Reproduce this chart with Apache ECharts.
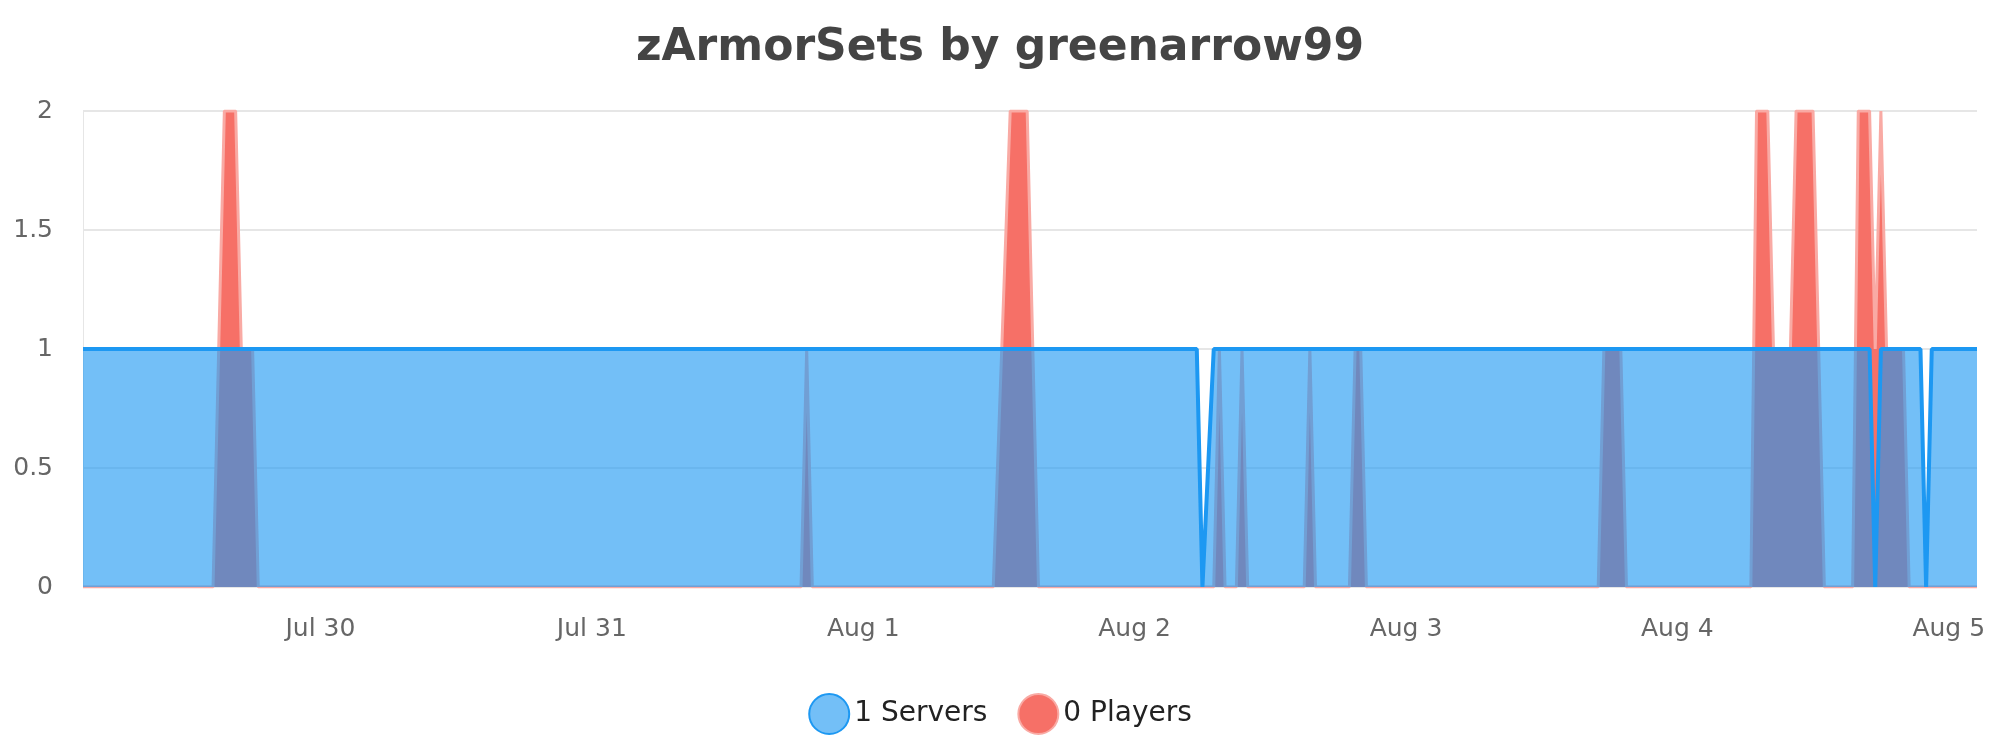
<!DOCTYPE html>
<html><head><meta charset="utf-8">
<script src="https://cdn.jsdelivr.net/npm/echarts@6/dist/echarts.min.js"></script>
<style>html,body{margin:0;padding:0;background:#fff}#c{width:2000px;height:750px}</style>
</head><body><div id="c"></div>
<script>
const titleText = 'zArmorSets by greenarrow99';
const seriesNames = ['1 Servers', '0 Players'];
const xMin = '2024-07-29T03:00';
const xMax = '2024-08-05T02:30';
const serverPoints = [
 ['2024-07-29T03:00',1],['2024-08-02T05:30',1],['2024-08-02T06:00',0],['2024-08-02T07:00',1],
 ['2024-08-04T17:00',1],['2024-08-04T17:30',0],['2024-08-04T18:00',1],['2024-08-04T21:30',1],
 ['2024-08-04T22:00',0],['2024-08-04T22:30',1],['2024-08-05T02:30',1]
];
const playerPoints = [
 ['2024-07-29T03:00',0],['2024-07-29T14:30',0],['2024-07-29T15:30',2],['2024-07-29T16:30',2],['2024-07-29T17:00',1],['2024-07-29T18:00',1],['2024-07-29T18:30',0],
 ['2024-07-31T18:30',0],['2024-07-31T19:00',1],['2024-07-31T19:30',0],
 ['2024-08-01T11:30',0],['2024-08-01T13:00',2],['2024-08-01T14:30',2],['2024-08-01T15:00',1],['2024-08-01T15:30',0],
 ['2024-08-02T07:00',0],['2024-08-02T07:30',1],['2024-08-02T08:00',0],
 ['2024-08-02T09:00',0],['2024-08-02T09:30',1],['2024-08-02T10:00',0],
 ['2024-08-02T15:00',0],['2024-08-02T15:30',1],['2024-08-02T16:00',0],
 ['2024-08-02T19:00',0],['2024-08-02T19:30',1],['2024-08-02T20:00',1],['2024-08-02T20:30',0],
 ['2024-08-03T17:00',0],['2024-08-03T17:30',1],['2024-08-03T19:00',1],['2024-08-03T19:30',0],
 ['2024-08-04T06:30',0],['2024-08-04T07:00',2],['2024-08-04T08:00',2],['2024-08-04T08:30',1],['2024-08-04T10:00',1],
 ['2024-08-04T10:30',2],['2024-08-04T12:00',2],['2024-08-04T12:30',1],['2024-08-04T13:00',0],
 ['2024-08-04T15:30',0],['2024-08-04T16:00',2],['2024-08-04T17:00',2],['2024-08-04T17:30',1],['2024-08-04T18:00',2],
 ['2024-08-04T18:30',1],['2024-08-04T20:00',1],['2024-08-04T20:30',0],['2024-08-05T02:30',0]
];
const yTicks = {min:0, max:2, interval:0.5};
const months = ['Jan','Feb','Mar','Apr','May','Jun','Jul','Aug','Sep','Oct','Nov','Dec'];
const font = 'DejaVu Sans';
const chart = echarts.init(document.getElementById('c'));
chart.setOption({
  animation:false,
  textStyle:{fontFamily:font},
  title:{text:titleText,left:'center',top:22,textStyle:{fontSize:44,fontWeight:'bold',color:'#444',fontFamily:font}},
  legend:{data:seriesNames,bottom:10,left:'center',icon:'circle',itemWidth:40,itemHeight:40,itemGap:30,
    textStyle:{fontSize:28,color:'#222',fontFamily:font}},
  grid:{left:83,right:23,top:111,bottom:163},
  xAxis:{type:'time',min:xMin,max:xMax,
    axisLine:{show:false},axisTick:{show:false},splitLine:{show:false},
    axisLabel:{fontSize:25,color:'#666',margin:30,hideOverlap:true,
      formatter:v=>{const d=new Date(v);return months[d.getMonth()]+' '+d.getDate();}},
    minInterval:86400000,maxInterval:86400000},
  yAxis:{type:'value',min:yTicks.min,max:yTicks.max,interval:yTicks.interval,
    axisLine:{show:true,lineStyle:{color:'#e6e6e6'}},
    splitLine:{lineStyle:{color:'#e6e6e6',width:2}},
    axisLabel:{fontSize:25,color:'#666',margin:30}},
  series:[
    {name:seriesNames[1],type:'line',data:playerPoints,symbol:'none',z:2,
      lineStyle:{color:'#f9aaa4',width:3},
      itemStyle:{color:'#f67067',borderColor:'#f9aaa4',borderWidth:3},
      areaStyle:{color:'#f67067',opacity:1}},
    {name:seriesNames[0],type:'line',data:serverPoints,symbol:'none',z:3,
      lineStyle:{color:'#1d98f2',width:4},
      itemStyle:{color:'#73bff7',borderColor:'#1d98f2',borderWidth:4},
      areaStyle:{color:'#1d98f2',opacity:0.62}}
  ]
});
</script></body></html>
